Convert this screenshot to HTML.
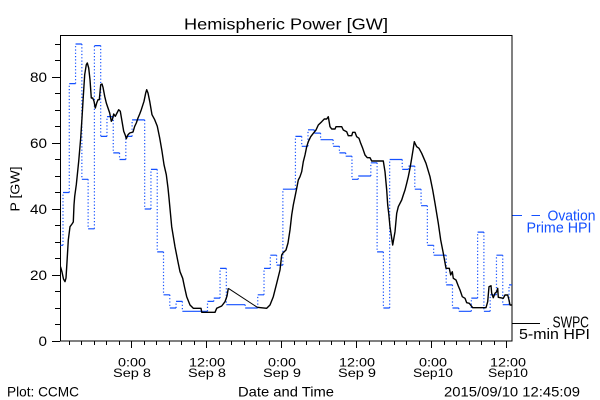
<!DOCTYPE html>
<html>
<head>
<meta charset="utf-8">
<style>
html,body{margin:0;padding:0;background:#fff;}
svg{display:block;}
text{font-family:"Liberation Sans",sans-serif;fill:#000;}
</style>
</head>
<body>
<svg width="600" height="400" viewBox="0 0 600 400" xmlns="http://www.w3.org/2000/svg">
<defs>
<clipPath id="pa"><rect x="60" y="35" width="452" height="306"/></clipPath>
</defs>
<rect x="0" y="0" width="600" height="400" fill="#fff"/>

<!-- Title -->
<text x="184" y="29.5" font-size="16" textLength="204" lengthAdjust="spacingAndGlyphs">Hemispheric Power [GW]</text>

<!-- Frame -->
<rect x="60.5" y="35.5" width="451.5" height="305.5" fill="none" stroke="#000" stroke-width="1" shape-rendering="crispEdges"/>

<!-- Y ticks -->
<path shape-rendering="crispEdges" stroke="#000" stroke-width="1" fill="none" d="
M52 341.5H60 M52 275.5H60 M52 209.5H60 M52 143.5H60 M52 77.5H60
M55 324.5H60 M55 308.5H60 M55 291.5H60 M55 258.5H60 M55 242.5H60 M55 225.5H60
M55 192.5H60 M55 176.5H60 M55 159.5H60 M55 126.5H60 M55 110.5H60 M55 93.5H60
M55 60.5H60 M55 44.5H60"/>

<!-- X ticks -->
<path shape-rendering="crispEdges" stroke="#000" stroke-width="1" fill="none" d="
M131.5 341V348 M206.5 341V348 M281.5 341V348 M356.5 341V348 M431.5 341V348 M506.5 341V348
M69.5 341V345 M81.5 341V345 M94.5 341V345 M106.5 341V345 M119.5 341V345
M144.5 341V345 M156.5 341V345 M169.5 341V345 M181.5 341V345 M194.5 341V345
M219.5 341V345 M231.5 341V345 M244.5 341V345 M256.5 341V345 M269.5 341V345
M294.5 341V345 M306.5 341V345 M319.5 341V345 M331.5 341V345 M344.5 341V345
M369.5 341V345 M381.5 341V345 M394.5 341V345 M406.5 341V345 M419.5 341V345
M444.5 341V345 M456.5 341V345 M469.5 341V345 M481.5 341V345 M494.5 341V345"/>

<!-- Y tick labels -->
<g font-size="14" text-anchor="end">
<text x="47" y="346" textLength="8.5" lengthAdjust="spacingAndGlyphs">0</text>
<text x="47" y="280" textLength="17" lengthAdjust="spacingAndGlyphs">20</text>
<text x="47" y="214" textLength="17" lengthAdjust="spacingAndGlyphs">40</text>
<text x="47" y="148" textLength="17" lengthAdjust="spacingAndGlyphs">60</text>
<text x="47" y="82" textLength="17" lengthAdjust="spacingAndGlyphs">80</text>
</g>

<!-- Y axis label -->
<text transform="translate(19.5,189) rotate(-90)" font-size="13" text-anchor="middle" textLength="45" lengthAdjust="spacingAndGlyphs">P [GW]</text>

<!-- X tick labels -->
<g font-size="12" text-anchor="middle">
<text x="132" y="366.5" textLength="28" lengthAdjust="spacingAndGlyphs">0:00</text>
<text x="132" y="377" textLength="38" lengthAdjust="spacingAndGlyphs">Sep 8</text>
<text x="207" y="366.5" textLength="36" lengthAdjust="spacingAndGlyphs">12:00</text>
<text x="207" y="377" textLength="38" lengthAdjust="spacingAndGlyphs">Sep 8</text>
<text x="282" y="366.5" textLength="28" lengthAdjust="spacingAndGlyphs">0:00</text>
<text x="282" y="377" textLength="38" lengthAdjust="spacingAndGlyphs">Sep 9</text>
<text x="357" y="366.5" textLength="36" lengthAdjust="spacingAndGlyphs">12:00</text>
<text x="357" y="377" textLength="38" lengthAdjust="spacingAndGlyphs">Sep 9</text>
<text x="433" y="366.5" textLength="28" lengthAdjust="spacingAndGlyphs">0:00</text>
<text x="433" y="377" textLength="40" lengthAdjust="spacingAndGlyphs">Sep10</text>
<text x="508" y="366.5" textLength="36" lengthAdjust="spacingAndGlyphs">12:00</text>
<text x="508" y="377" textLength="40" lengthAdjust="spacingAndGlyphs">Sep10</text>
</g>

<!-- Bottom texts -->
<g font-size="14">
<text x="7" y="396.5" textLength="72" lengthAdjust="spacingAndGlyphs">Plot: CCMC</text>
<text x="238" y="396.5" textLength="96" lengthAdjust="spacingAndGlyphs">Date and Time</text>
<text x="444" y="396.5" textLength="136" lengthAdjust="spacingAndGlyphs">2015/09/10 12:45:09</text>
</g>

<!-- Legend -->
<path d="M512.5 215.5H522 M531.5 215.5H540" stroke="#1450ff" stroke-width="1" fill="none" shape-rendering="crispEdges"/>
<text x="547.5" y="220.7" font-size="15" fill="#1450ff" style="fill:#1450ff" textLength="48" lengthAdjust="spacingAndGlyphs">Ovation</text>
<text x="526.5" y="232.3" font-size="15" fill="#1450ff" style="fill:#1450ff" textLength="65" lengthAdjust="spacingAndGlyphs">Prime HPI</text>
<path d="M512.5 323.5H540" stroke="#000" stroke-width="1" fill="none" shape-rendering="crispEdges"/>
<text transform="translate(552.5,327.5) scale(0.76,1)" x="0" y="0" style="font-size:16px">SWPC</text>
<text x="519" y="339" font-size="15" textLength="71" lengthAdjust="spacingAndGlyphs">5-min HPI</text>

<g clip-path="url(#pa)">
<!-- Blue horizontals (solid) -->
<path stroke="#1450ff" stroke-width="1.2" fill="none" d="M60.5 245.3H63 M63 192.5H69.28 M69.28 83.6H75.56 M75.56 44H81.85 M81.85 179.3H88.13 M88.13 228.8H94.41 M94.41 45.6H100.69 M100.69 136.4H106.97 M106.97 116.6H113.26 M113.26 152.9H119.54 M119.54 159.5H125.82 M125.82 136.4H132.1 M132.1 119.9H144.67 M144.67 209H150.95 M150.95 169.4H157.23 M157.23 251.9H163.51 M163.51 294.8H169.79 M169.79 308H176.08 M176.08 301.4H182.36 M182.36 311.3H207.49 M207.49 301.4H213.77 M213.77 298.1H220.05 M220.05 268.4H226.33 M226.33 304.7H245.18 M245.18 308H257.74 M257.74 294.8H264.02 M264.02 268.4H270.31 M270.31 255.2H276.59 M276.59 265.1H282.87 M282.87 189.2H295.43 M295.43 136.4H301.72 M301.72 146.3H308 M308 129.8H314.28 M314.28 133.1H320.56 M320.56 139.7H333.13 M333.13 146.3H339.41 M339.41 152.9H345.69 M345.69 156.2H351.97 M351.97 179.3H358.25 M358.25 176H370.82 M370.82 162.8H377.1 M377.1 251.9H383.38 M383.38 308H389.66 M389.66 159.5H402.23 M402.23 169.4H408.51 M408.51 166.1H414.79 M414.79 189.2H421.07 M421.07 205.7H427.36 M427.36 245.3H433.64 M433.64 255.2H446.2 M446.2 284.9H452.48 M452.48 308H458.77 M458.77 311.3H471.33 M471.33 298.1H477.61 M477.61 232.1H483.89 M483.89 311.3H490.18 M490.18 294.8H496.46 M496.46 255.2H502.74 M502.74 304.7H509.02 M509.02 284.9H512"/>
<!-- Blue verticals (dotted) -->
<path stroke="#1450ff" stroke-width="1.2" fill="none" stroke-dasharray="1.2 2.1" d="M63 245.3V192.5 M69.28 192.5V83.6 M75.56 83.6V44 M81.85 44V179.3 M88.13 179.3V228.8 M94.41 228.8V45.6 M100.69 45.6V136.4 M106.97 136.4V116.6 M113.26 116.6V152.9 M119.54 152.9V159.5 M125.82 159.5V136.4 M132.1 136.4V119.9 M144.67 119.9V209 M150.95 209V169.4 M157.23 169.4V251.9 M163.51 251.9V294.8 M169.79 294.8V308 M176.08 308V301.4 M182.36 301.4V311.3 M207.49 311.3V301.4 M213.77 301.4V298.1 M220.05 298.1V268.4 M226.33 268.4V304.7 M245.18 304.7V308 M257.74 308V294.8 M264.02 294.8V268.4 M270.31 268.4V255.2 M276.59 255.2V265.1 M282.87 265.1V189.2 M295.43 189.2V136.4 M301.72 136.4V146.3 M308 146.3V129.8 M314.28 129.8V133.1 M320.56 133.1V139.7 M333.13 139.7V146.3 M339.41 146.3V152.9 M345.69 152.9V156.2 M351.97 156.2V179.3 M358.25 179.3V176 M370.82 176V162.8 M377.1 162.8V251.9 M383.38 251.9V308 M389.66 308V159.5 M402.23 159.5V169.4 M408.51 169.4V166.1 M414.79 166.1V189.2 M421.07 189.2V205.7 M427.36 205.7V245.3 M433.64 245.3V255.2 M446.2 255.2V284.9 M452.48 284.9V308 M458.77 308V311.3 M471.33 311.3V298.1 M477.61 298.1V232.1 M483.89 232.1V311.3 M490.18 311.3V294.8 M496.46 294.8V255.2 M502.74 255.2V304.7 M509.02 304.7V284.9"/>

<!-- Black SWPC line -->
<path stroke="#000" stroke-width="1.4" fill="none" stroke-linejoin="round" d="M60.5 266.7 L62 272 L63.5 279 L65 281.7 L66 278 L67 262 L68.3 240 L70 226.7 L72 224 L73.3 222 L74 205 L74.7 196.3 L76.3 184.7 L78.7 161.3 L80.7 138 L82 118 L83.3 96.3 L84.7 74.7 L86.3 64.7 L87.3 63 L88.7 68 L90 79.7 L91.3 98 L92.7 98 L94 101.3 L95.3 108 L96.7 103 L98 99.7 L99.3 99.7 L100.7 84.7 L102 84 L103 87.3 L104.7 96.3 L106.3 103 L108 108 L109.7 113 L111.3 121.3 L112.3 119.7 L113.7 114 L115.3 116.3 L117 113 L118.7 109.7 L120.3 111.3 L122 121.3 L123.7 131.3 L125.3 135.3 L126.3 138.7 L128 134.7 L129.7 133 L133 132 L134.7 126.3 L136.3 123 L138 118 L139.7 114 L141.3 109.7 L144 101.3 L145.7 93 L146.7 89.7 L148 93 L149.7 101.3 L152 114.7 L154.7 119.7 L157.3 126.3 L159.7 138 L162 151.3 L164 164.7 L166.3 174.7 L168 188 L169 198 L171.7 226.7 L175 246.7 L178 262 L180 271.7 L182.7 278.3 L184.5 287 L186.7 296.7 L190 305 L193.3 308.3 L201 308.3 L201.7 312.3 L215 312.3 L216.7 308.3 L221.7 306 L225 301.7 L227 296 L228.3 288.3"/>
<path stroke="#000" stroke-width="1" fill="none" d="M228.3 288.3 L257.3 307.3"/>
<path stroke="#000" stroke-width="1.4" fill="none" stroke-linejoin="round" d="M257.3 307.3 L266.7 308.3 L270 305 L273.3 296.7 L276.7 283.3 L280 270 L281.7 255 L282.7 253.3 L286 250 L288 243 L290 230 L291.7 215 L293.3 205 L295 196.7 L296.7 188.3 L298.3 180 L300 176.7 L301.7 171.7 L303.3 161.7 L305 155 L306.7 146.7 L308.3 141.7 L310.7 136.7 L313.3 133.3 L316 130 L318.3 125 L321.7 121.7 L324.3 119 L326.7 119 L328.3 116.7 L330 126.7 L331.7 129 L335 129 L336 126.7 L341.7 126.7 L343.3 130 L346.7 131.7 L348.3 135.7 L351.7 135.7 L352.7 132.3 L355 132.3 L356.7 136.7 L359 138.3 L360.7 143.3 L362.7 148.3 L365 155 L367.3 157.7 L370 157.7 L371.7 161 L374 161 L383.3 161 L385 171.7 L386.7 190 L387.7 205 L388.7 213.3 L390 226.7 L392.7 245 L395 231.7 L396.7 213.3 L398.3 206.7 L401.7 200 L403.3 195 L405 190 L406.7 183.3 L408.3 176.7 L410 168.3 L411.7 158.3 L413.3 148.3 L414.3 141.7 L415 143.3 L416.7 146.7 L419 148.3 L421.7 153.3 L426 163.3 L430 176.7 L432.7 190 L435 203.3 L438.3 223.3 L440.7 240 L443.3 253.3 L446 268.3 L449.3 268.3 L450.7 275 L452.3 271.7 L453.3 278.3 L456 280 L458.3 286 L460 290 L462.3 296.7 L465 298.3 L466.7 302.7 L469.3 303.3 L472.7 307.7 L486 307.7 L487.7 301.7 L489 286.7 L491 285.7 L491.7 293.3 L493.3 297.7 L495 293.3 L496.7 291.7 L497.7 288.3 L498.3 297.3 L503.3 298.3 L505 295 L507.7 295 L509 300 L510 305 L511.7 305"/>
</g>
</svg>
</body>
</html>
